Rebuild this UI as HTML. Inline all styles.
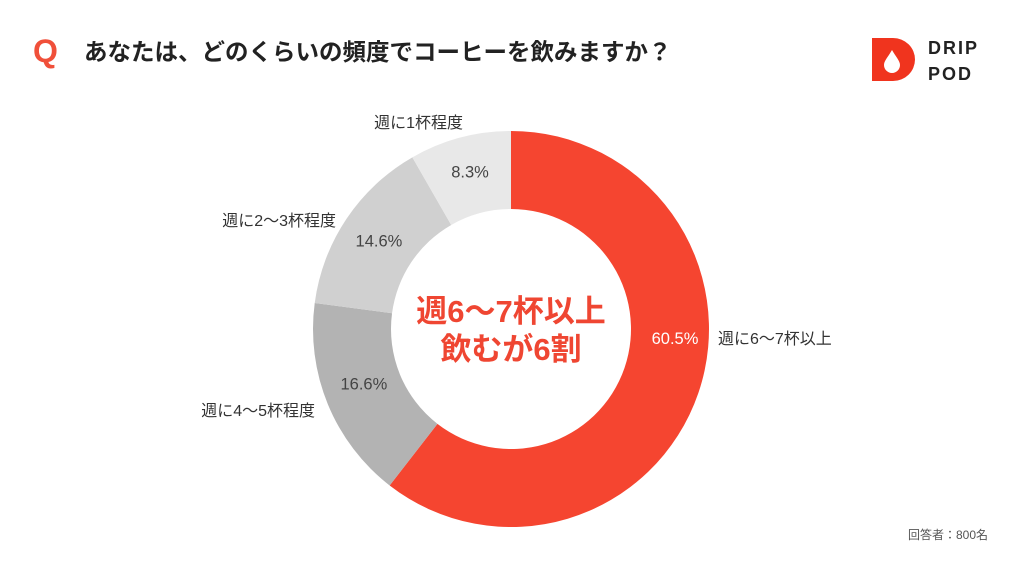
<!DOCTYPE html>
<html><head><meta charset="utf-8"><style>
body{margin:0;width:1024px;height:576px;background:#fff;overflow:hidden;font-family:"Liberation Sans","Noto Sans CJK JP",sans-serif}
</style></head><body>
<svg width="1024" height="576" viewBox="0 0 1024 576" xmlns="http://www.w3.org/2000/svg" font-family="Liberation Sans, Noto Sans CJK JP, sans-serif">
<text x="33" y="62" font-size="32" font-weight="bold" fill="#f0503a">Q</text>
<text x="84" y="60" font-size="23.5" font-weight="bold" fill="#222">あなたは、どのくらいの頻度でコーヒーを飲みますか？</text>
<g>
<path d="M872 38 H893 A22 21.5 0 0 1 893 81 H872 Z" fill="#f0341e"/>
<path d="M892 50 C888 57 884 61 884 65 A8 8 0 0 0 900 65 C900 61 896 57 892 50 Z" fill="#fff"/>
<text x="928" y="54" font-size="18" font-weight="bold" fill="#222" letter-spacing="2">DRIP</text>
<text x="928" y="80" font-size="18" font-weight="bold" fill="#222" letter-spacing="2">POD</text>
</g>
<g id="donut"></g>
<text x="511" y="322" font-size="31" font-weight="bold" fill="#ef4632" text-anchor="middle">週6〜7杯以上</text>
<text x="511" y="360" font-size="31" font-weight="bold" fill="#ef4632" text-anchor="middle">飲むが6割</text>
<text x="988" y="539" font-size="12" fill="#555" text-anchor="end">回答者：800名</text>
</svg>
<script>
const categories=["週に6〜7杯以上","週に4〜5杯程度","週に2〜3杯程度","週に1杯程度"];
const values=[60.5,16.6,14.6,8.3];
const colors=["#f54530","#b3b3b3","#d0d0d0","#e8e8e8"];
const labelPos=[[718,344,"start"],[315,416,"end"],[336,226,"end"],[463,128,"end"]];
const cx=511,cy=329,R=198,r=120;
const g=document.getElementById('donut');
const NS="http://www.w3.org/2000/svg";
const total=values.reduce((a,b)=>a+b,0);
let a0=0;
function pt(rad,a){return [cx+rad*Math.sin(a),cy-rad*Math.cos(a)];}
values.forEach((v,i)=>{
 const a1=a0+v/total*2*Math.PI;
 const large=(a1-a0)>Math.PI?1:0;
 const p1=pt(R,a0),p2=pt(R,a1),p3=pt(r,a1),p4=pt(r,a0);
 const p=document.createElementNS(NS,'path');
 p.setAttribute('d',`M${p1} A${R} ${R} 0 ${large} 1 ${p2} L${p3} A${r} ${r} 0 ${large} 0 ${p4} Z`);
 p.setAttribute('fill',colors[i]);
 
 
 g.appendChild(p);
 let am=(a0+a1)/2;
 if(i===0) am=Math.min(am,Math.PI/2);
 const pm=pt((R+r)/2,am);
 const t=document.createElementNS(NS,'text');
 t.setAttribute('x',pm[0]+(i===0?5:0));t.setAttribute('y',pm[1]+(i===0?15:i===1?0:i===3?2:6));
 t.setAttribute('text-anchor','middle');t.setAttribute('font-size','16.5');
 t.setAttribute('fill',i===0?'#fff':'#444');
 t.textContent=v.toFixed(1)+'%';
 
 
 g.appendChild(t);
 const c=document.createElementNS(NS,'text');
 c.setAttribute('x',labelPos[i][0]);c.setAttribute('y',labelPos[i][1]);
 c.setAttribute('text-anchor',labelPos[i][2]);c.setAttribute('font-size','16');
 c.setAttribute('fill','#333');
 c.textContent=categories[i];
 
 
 g.appendChild(c);
 a0=a1;
});
</script>
</body></html>
